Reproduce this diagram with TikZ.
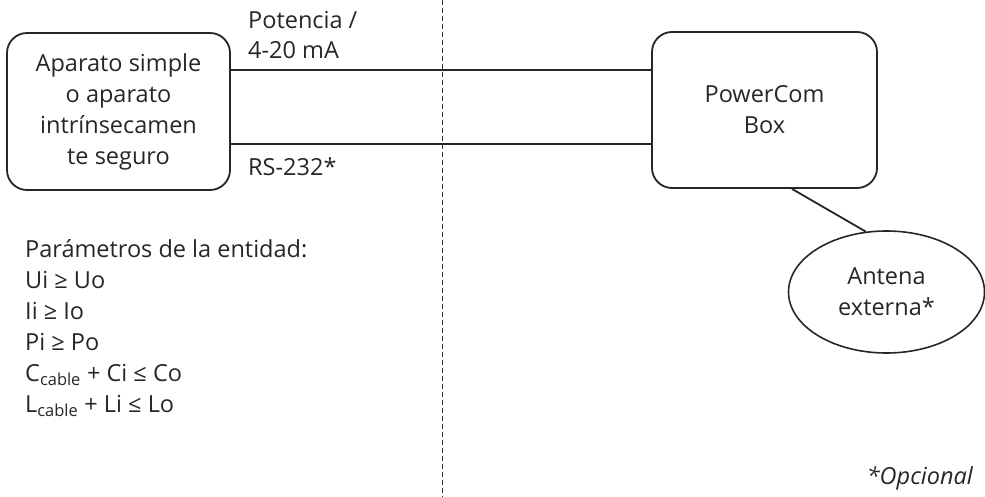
\documentclass[tikz,border=0pt]{standalone}
\usepackage{fontspec}
\setmainfont{Open Sans}
\usetikzlibrary{shapes.geometric,positioning}

\tikzset{
  unitbox/.style={draw=black!85, line width=1.8pt, rounded corners=20pt, align=center,
    inner sep=0pt},
  wire/.style={draw=black!85, line width=1.8pt},
  lbl/.style={anchor=west, inner sep=0pt, text=black!85},
}

\begin{document}
\begin{tikzpicture}[x=1pt, y=-1pt, font=\fontsize{23.5}{31}\selectfont]
  \useasboundingbox (0,0) rectangle (985,497);

  % Boundary between the two areas
  \draw[black!80, line width=1pt, dash pattern=on 5pt off 3pt] (442,0) -- (442,497);

  % Units
  \node[unitbox, minimum width=223pt, minimum height=157pt, text=black!85] (aparato) at (118.5,111.5)
    {Aparato simple\\o aparato\\intrínsecamen\\te seguro};
  \node[unitbox, minimum width=225pt, minimum height=156pt, text=black!85] (pcbox) at (764.5,110)
    {PowerCom\\Box};
  \node[draw=black!85, line width=1.6pt, ellipse, minimum width=196pt, minimum height=122pt,
    inner sep=0pt, align=center, text=black!85] (antena) at (886.5,292) {Antena\\externa*};

  % Cables
  \draw[wire] (aparato.east |- 0,70) -- (pcbox.west |- 0,70);
  \draw[wire] (aparato.east |- 0,144) -- (pcbox.west |- 0,144);
  \draw[wire] ([xshift=27.5pt]pcbox.south) -- (antena.109);

  % Cable labels
  \node[lbl] (potencia) at (248,20) {Potencia /};
  \node[lbl] (corriente) at (248,50) {4-20 mA};
  \node[lbl] (serie) at (248,167) {RS-232*};

  % Entity parameters
  \node[lbl, anchor=north west, align=left] (param) at (25,239)
    {Parámetros de la entidad:\\
     Ui ≥ Uo\\
     Ii ≥ Io\\
     Pi ≥ Po\\
     C\textsubscript{cable} + Ci ≤ Co\\
     L\textsubscript{cable} + Li ≤ Lo};

  \node[lbl, anchor=east] (nota) at (973,478) {\itshape *Opcional};
\end{tikzpicture}
\end{document}
